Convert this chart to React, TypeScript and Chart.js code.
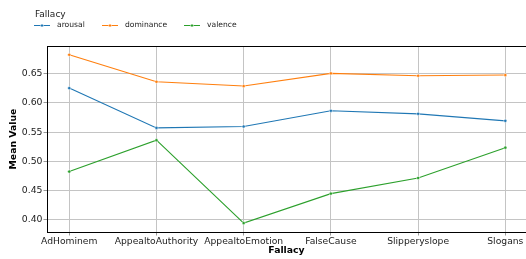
import React, { useEffect, useRef } from "react";
import { Chart, registerables } from "chart.js";

Chart.register(...registerables);

const categories = ["AdHominem", "AppealtoAuthority", "AppealtoEmotion", "FalseCause", "Slipperyslope", "Slogans"];
const arousal = [0.6254, 0.5572, 0.5596, 0.5865, 0.5813, 0.5693];
const dominance = [0.6826, 0.6363, 0.6289, 0.6507, 0.6466, 0.6478];
const valence = [0.4823, 0.5361, 0.394, 0.4445, 0.4713, 0.5233];
const yTicks = [0.4, 0.45, 0.5, 0.55, 0.6, 0.65];
const seriesNames = ["arousal", "dominance", "valence"];
const seriesColors = ["#1f77b4", "#ff7f0e", "#2ca02c"];
const seriesValues = [arousal, dominance, valence];

const FONT = "'DejaVu Sans', sans-serif";

const framePlugin = {
  id: "frame",
  afterDraw(chart: any) {
    const { ctx, chartArea } = chart;
    ctx.save();
    ctx.strokeStyle = "#000";
    ctx.lineWidth = 1;
    ctx.beginPath();
    ctx.moveTo(chartArea.left, chartArea.top + 0.5);
    ctx.lineTo(chart.width, chartArea.top + 0.5);
    ctx.stroke();
    ctx.restore();

    // legend
    ctx.save();
    ctx.fillStyle = "#222";
    ctx.font = `9px ${FONT}`;
    ctx.textBaseline = "alphabetic";
    ctx.textAlign = "left";
    ctx.fillText("Fallacy", 35, 17);
    const starts = [34, 102, 184];
    ctx.font = `7.6px ${FONT}`;
    ctx.textBaseline = "middle";
    seriesNames.forEach((name, i) => {
      const x0 = starts[i];
      const y = 25.5;
      ctx.strokeStyle = seriesColors[i];
      ctx.lineWidth = 1;
      ctx.beginPath();
      ctx.moveTo(x0, y);
      ctx.lineTo(x0 + 16, y);
      ctx.stroke();
      ctx.fillStyle = seriesColors[i];
      ctx.strokeStyle = "#fff";
      ctx.lineWidth = 0.5;
      ctx.beginPath();
      ctx.arc(x0 + 8, y, 1.5, 0, Math.PI * 2);
      ctx.fill();
      ctx.stroke();
      ctx.fillStyle = "#222";
      ctx.fillText(name, x0 + 23, y);
    });
    ctx.restore();
  },
};

export default function App() {
  const ref = useRef<HTMLCanvasElement>(null);
  useEffect(() => {
    document.body.style.margin = "0";
    const canvas = ref.current!;
    const chart = new Chart(canvas, {
      type: "line",
      data: {
        datasets: seriesNames.map((name, i) => ({
          label: name,
          data: seriesValues[i].map((v, j) => ({ x: j, y: v })),
          borderColor: seriesColors[i],
          backgroundColor: seriesColors[i],
          borderWidth: 1.1,
          pointRadius: 1.6,
          pointBorderColor: "#fff",
          pointBorderWidth: 0.5,
          pointBackgroundColor: seriesColors[i],
          tension: 0,
          fill: false,
        })),
      },
      options: {
        animation: false,
        responsive: false,
        maintainAspectRatio: false,
        layout: { autoPadding: false, padding: { top: 46, left: 0, right: 0, bottom: 0 } },
        plugins: { legend: { display: false }, tooltip: { enabled: false } },
        scales: {
          x: {
            type: "linear",
            min: -0.255,
            max: 5.237,
            afterBuildTicks: (scale: any) => {
              scale.ticks = categories.map((_, i) => ({ value: i }));
            },
            afterFit: (scale: any) => {
              scale.height = 27;
              scale.paddingLeft = 0;
              scale.paddingRight = 0;
            },
            ticks: {
              autoSkip: false,
              maxRotation: 0,
              minRotation: 0,
              padding: 1,
              color: "#222",
              font: { family: FONT, size: 9.2 },
              callback: (v: any) => categories[Math.round(v)] ?? "",
            },
            grid: { color: "#c4c4c4", lineWidth: 1, tickLength: 3.5, tickColor: "#999" },
            border: { color: "#000", width: 1 },
            title: {
              display: true,
              text: "Fallacy",
              color: "#000",
              font: { family: FONT, size: 9.3, weight: "bold" },
              padding: { top: 0, bottom: 3 },
            },
          },
          y: {
            type: "linear",
            min: 0.3787,
            max: 0.6976,
            afterBuildTicks: (scale: any) => {
              scale.ticks = yTicks.map((v) => ({ value: v }));
            },
            afterFit: (scale: any) => {
              scale.width = 47;
              scale.paddingTop = 0;
              scale.paddingBottom = 0;
            },
            ticks: {
              padding: 1,
              color: "#222",
              font: { family: FONT, size: 9.3 },
              callback: (v: any) => Number(v).toFixed(2),
            },
            grid: { color: "#c4c4c4", lineWidth: 1, tickLength: 3.5, tickColor: "#999" },
            border: { color: "#000", width: 1 },
            title: {
              display: true,
              text: "Mean Value",
              color: "#000",
              font: { family: FONT, size: 9.3, weight: "bold" },
              padding: { top: 8, bottom: 0 },
            },
          },
        },
      },
      plugins: [framePlugin],
    } as any);
    return () => chart.destroy();
  }, []);
  return <canvas ref={ref} width={526} height={259} style={{ display: "block" }} />;
}
